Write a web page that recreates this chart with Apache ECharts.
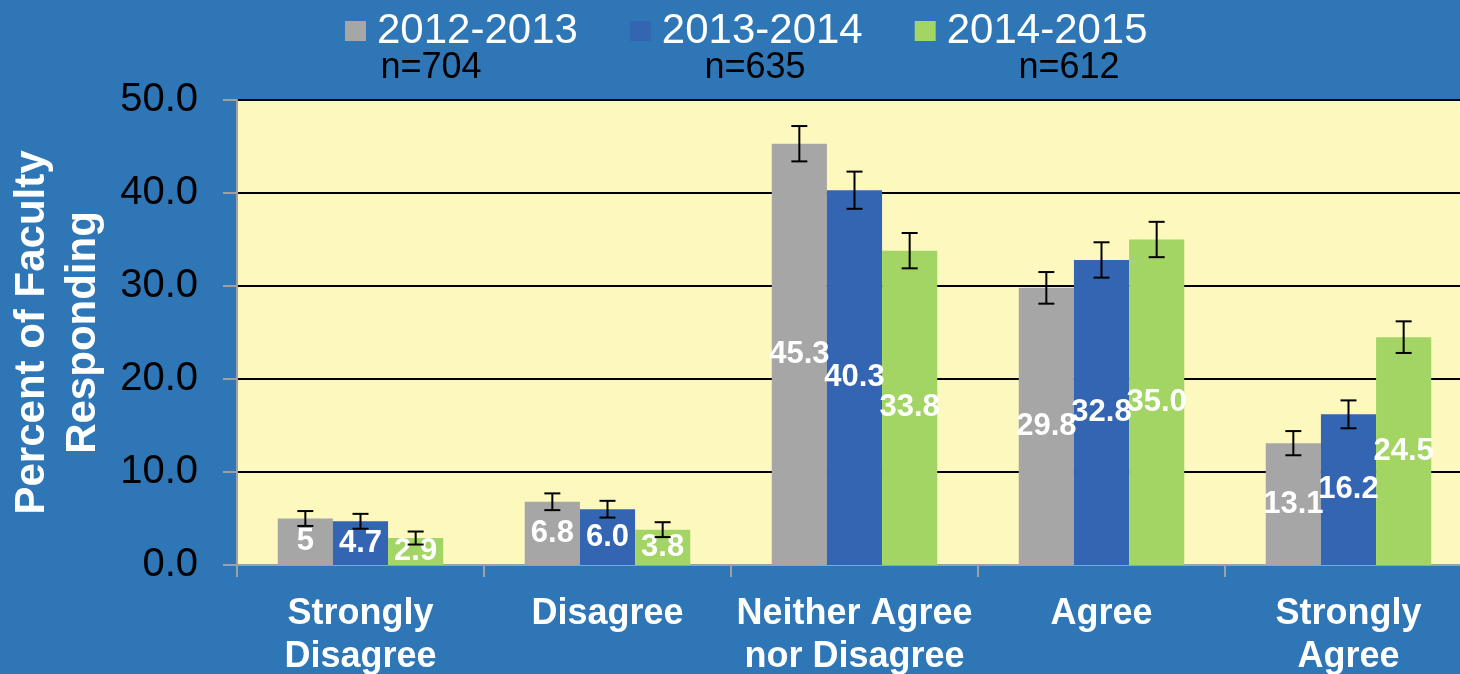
<!DOCTYPE html>
<html>
<head>
<meta charset="utf-8">
<script src="https://cdn.jsdelivr.net/npm/echarts@6/dist/echarts.min.js"></script>
<style>
html,body{margin:0;padding:0;background:#2E76B6;}
#chart{width:1460px;height:674px;}
</style>
</head>
<body>
<div id="chart"></div>
<script>
const categories = ['Strongly\nDisagree', 'Disagree', 'Neither Agree\nnor Disagree', 'Agree', 'Strongly\nAgree'];
const years = ['2012-2013', '2013-2014', '2014-2015'];
const sampleSizes = ['n=704', 'n=635', 'n=612'];
const pct2012 = ['5', '6.8', '45.3', '29.8', '13.1'];
const pct2013 = ['4.7', '6.0', '40.3', '32.8', '16.2'];
const pct2014 = ['2.9', '3.8', '33.8', '35.0', '24.5'];
const err2012 = [0.8, 0.9, 1.9, 1.7, 1.3];
const err2013 = [0.8, 0.9, 2.0, 1.9, 1.5];
const err2014 = [0.7, 0.8, 1.9, 1.9, 1.7];
const yMin = 0, yMax = 50, yStep = 10;

const pctSets = [pct2012, pct2013, pct2014];
const errSets = [err2012, err2013, err2014];
const barColors = ['#A6A6A6', '#3465B2', '#A2D563'];
const FONT = '"Liberation Sans", Arial, sans-serif';
const CAT_GAP = 0.33;

const chart = echarts.init(document.getElementById('chart'), null, {renderer: 'canvas'});

const barSeries = years.map((y, k) => ({
  name: y,
  type: 'bar',
  z: 2,
  data: pctSets[k].map(Number),
  itemStyle: {color: barColors[k]},
  barGap: '0%',
  barCategoryGap: (CAT_GAP * 100) + '%',
  label: {
    show: true,
    position: 'inside',
    color: '#FFFFFF',
    fontWeight: 'bold',
    fontSize: 31,
    fontFamily: FONT,
    formatter: p => pctSets[k][p.dataIndex]
  }
}));

const errSeries = years.map((y, k) => ({
  name: y + ' err',
  type: 'custom',
  z: 5,
  silent: true,
  encode: {x: 0, y: [1, 2]},
  data: pctSets[k].map((v, i) => [i, Number(v) - errSets[k][i], Number(v) + errSets[k][i]]),
  renderItem: (params, api) => {
    const ci = api.value(0);
    const band = api.size([1, 0])[0];
    const barW = band * (1 - CAT_GAP) / 3;
    const x = api.coord([ci, 0])[0] + (k - 1) * barW;
    const yLo = api.coord([ci, api.value(1)])[1];
    const yHi = api.coord([ci, api.value(2)])[1];
    const cap = 8;
    const st = {stroke: '#000', lineWidth: 2};
    return {
      type: 'group',
      children: [
        {type: 'line', shape: {x1: x, y1: yLo, x2: x, y2: yHi}, style: st},
        {type: 'line', shape: {x1: x - cap, y1: yLo, x2: x + cap, y2: yLo}, style: st},
        {type: 'line', shape: {x1: x - cap, y1: yHi, x2: x + cap, y2: yHi}, style: st}
      ]
    };
  }
}));

const nPos = [431, 755, 1069];

chart.setOption({
  backgroundColor: '#2E76B6',
  animation: false,
  textStyle: {fontFamily: FONT},
  legend: {
    data: years,
    left: 340,
    top: 5,
    icon: 'rect',
    itemWidth: 21,
    itemHeight: 20,
    itemGap: 52,
    textStyle: {color: '#FFFFFF', fontSize: 42, fontFamily: FONT, padding: [0, 0, 0, 6], lineHeight: 42}
  },
  graphic: sampleSizes.map((t, i) => ({
    type: 'text',
    x: nPos[i],
    y: 68,
    style: {text: t, fill: '#000000', font: '36px ' + FONT, align: 'center', verticalAlign: 'middle',
            textAlign: 'center', textVerticalAlign: 'middle'}
  })),
  grid: {
    left: 237,
    top: 100,
    width: 1235,
    bottom: 109,
    show: true,
    backgroundColor: '#FDF9BE',
    borderWidth: 0,
    containLabel: false,
    outerBoundsMode: 'none'
  },
  xAxis: {
    type: 'category',
    data: categories,
    axisLine: {show: true, lineStyle: {color: '#A0A0A0', width: 2}},
    axisTick: {show: true, length: 12, lineStyle: {color: '#A0A0A0', width: 2}},
    axisLabel: {
      interval: 0,
      color: '#FFFFFF',
      fontWeight: 'bold',
      fontSize: 36,
      lineHeight: 43,
      margin: 28,
      fontFamily: FONT
    },
    splitLine: {show: false}
  },
  yAxis: {
    type: 'value',
    min: yMin,
    max: yMax,
    interval: yStep,
    name: 'Percent of Faculty\nResponding',
    nameLocation: 'middle',
    nameGap: 128,
    nameTextStyle: {color: '#FFFFFF', fontWeight: 'bold', fontSize: 42, lineHeight: 51, fontFamily: FONT},
    axisLine: {show: true, lineStyle: {color: '#A0A0A0', width: 2}},
    axisTick: {show: true, length: 14, lineStyle: {color: '#A0A0A0', width: 2}},
    axisLabel: {
      color: '#000000',
      fontSize: 40,
      margin: 39,
      fontFamily: FONT,
      formatter: v => v.toFixed(1)
    },
    splitLine: {show: true, showMinLine: false, lineStyle: {color: '#000000', width: 2}}
  },
  series: barSeries.concat(errSeries)
});
</script>
</body>
</html>
